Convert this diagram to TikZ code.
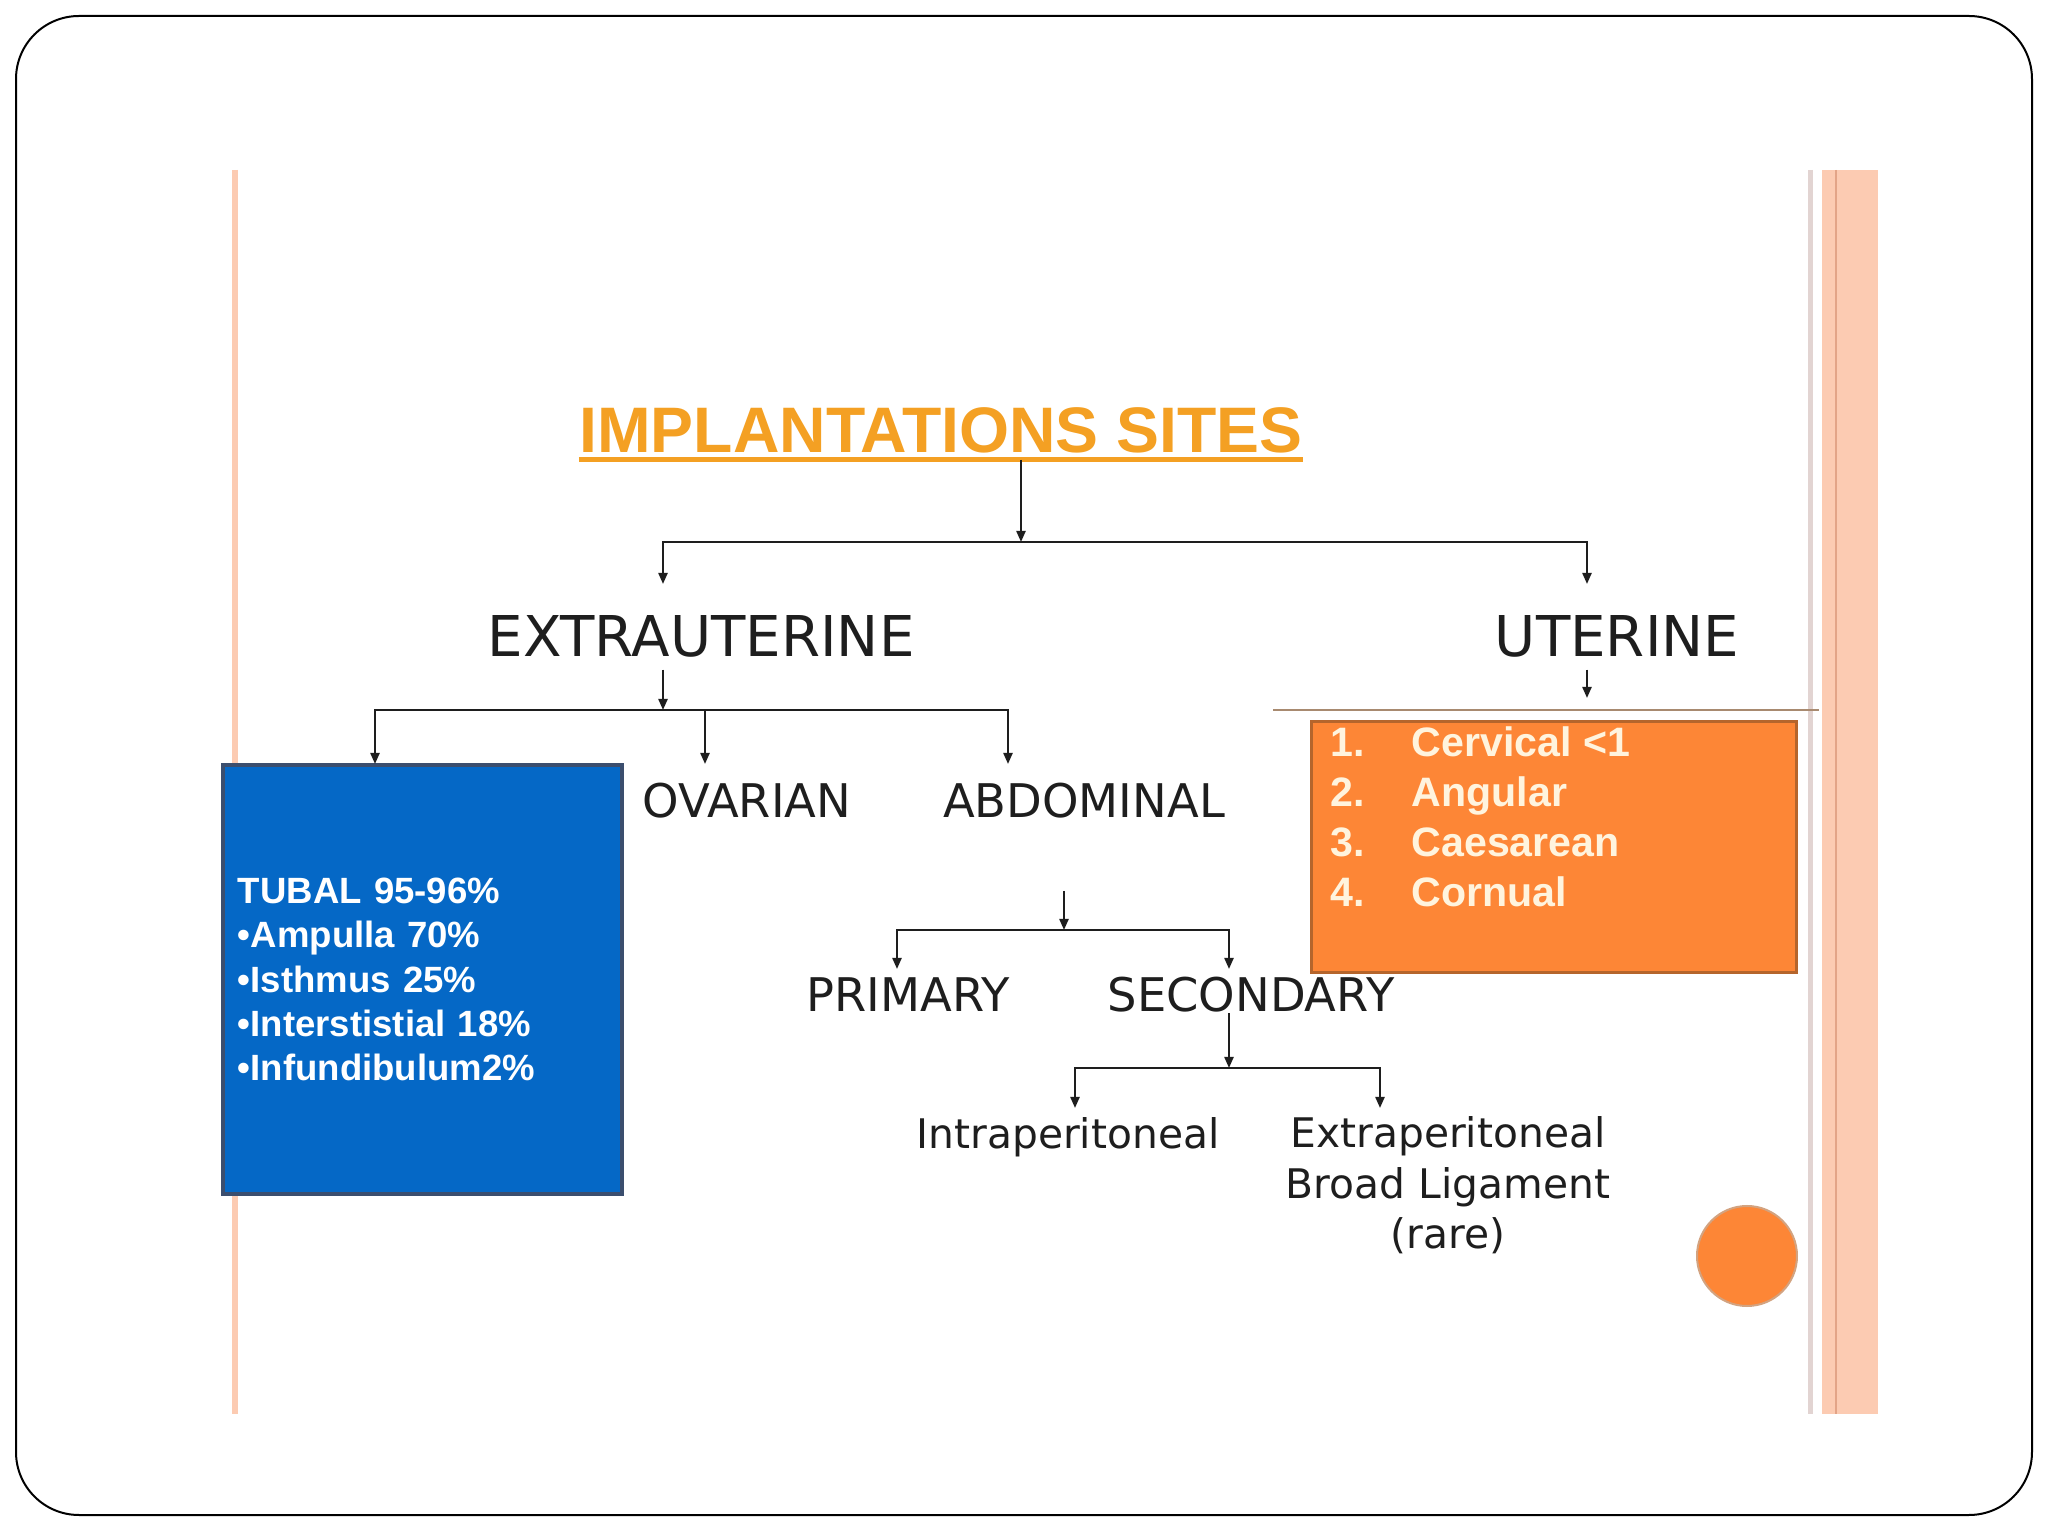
\documentclass[tikz,border=0pt]{standalone}
\usepackage{fontspec}
\setmainfont{DejaVu Sans}
\newfontfamily\arialfont{Liberation Sans}
\usepackage{tikz}
\usepackage{xcolor}
\usetikzlibrary{arrows.meta, positioning}

\definecolor{cInk}        {HTML}{1E1E1E}
\definecolor{cTitle}      {HTML}{F4A023}
\definecolor{cTubal}      {HTML}{0568C6}
\definecolor{cTubalEdge}  {HTML}{3B4E6E}
\definecolor{cUterine}    {HTML}{FD8636}
\definecolor{cUterineEdge}{HTML}{B5652C}
\definecolor{cListText}   {HTML}{FFF4DE}
\definecolor{cStripe}     {HTML}{FCCBB2}
\definecolor{cStripeDark} {HTML}{E3A487}
\definecolor{cStripeGrey} {HTML}{E2D4D2}
\definecolor{cRule}       {HTML}{A88A70}

\begin{document}
\begin{tikzpicture}[
    arr/.style={-{Triangle[length=1.1mm, width=0.9mm]}, line width=0.22mm, draw=cInk},
    level/.style={font=\fontsize{16}{19}\selectfont, text=cInk, inner sep=0pt},
    sublevel/.style={font=\fontsize{13.2}{16}\selectfont, text=cInk, inner sep=0pt},
    leaf/.style={font=\fontsize{11.6}{14.4}\selectfont, text=cInk, inner sep=0pt},
    listtext/.style={font=\arialfont\bfseries\fontsize{11.7}{14}\selectfont,
                     text=cListText, inner sep=0pt, anchor=base west},
  ]
  \useasboundingbox (0,0) rectangle (204.8mm,-153.6mm);
  \fill[white] (0,0) rectangle (204.8mm,-153.6mm);
  % slide frame and side stripes
  \draw[line width=0.2mm, rounded corners=6.3mm] (1.6mm,-1.6mm) rectangle (203.2mm,-151.5mm);
  \draw[cStripe, line width=0.6mm] (23.5mm,-17mm) -- (23.5mm,-141.4mm);
  \fill[cStripe] (182.2mm,-17mm) rectangle (187.8mm,-141.4mm);
  \draw[cStripeDark, line width=0.2mm] (183.6mm,-17mm) -- (183.6mm,-141.4mm);
  \draw[cStripeGrey, line width=0.5mm] (181.0mm,-17mm) -- (181.0mm,-141.4mm);

  % title
  \node[font=\arialfont\bfseries\fontsize{18.3}{22}\selectfont, text=cTitle,
        inner xsep=0pt, inner ysep=0.6mm, anchor=south] (title) at (94.1mm,-46.0mm) {IMPLANTATIONS SITES};
  \draw[cTitle, line width=0.5mm] (title.south west) -- (title.south east);

  % levels
  \node[level] (extra) at (70.1mm,-63.6mm) {EXTRAUTERINE};
  \node[level] (uter) at (161.7mm,-63.6mm) {UTERINE};
  \node[sublevel] (ovar) at (74.7mm,-80.1mm) {OVARIAN};
  \node[sublevel] (abdo) at (108.4mm,-80.1mm) {ABDOMINAL};
  \node[sublevel] (prim) at (90.8mm,-99.5mm) {PRIMARY};
  \node[sublevel] (secd) at (125.1mm,-99.5mm) {SECONDARY};
  \node[leaf, anchor=base] (intra) at (106.8mm,-114.8mm) {Intraperitoneal};
  \node[leaf, anchor=north, align=center] (extraP) at (144.8mm,-111.6mm) {Extraperitoneal\\Broad Ligament\\(rare)};

  % tubal box
  \node[draw=cTubalEdge, fill=cTubal, line width=0.4mm, text width=36.9mm, inner xsep=1.5mm,
        minimum height=42.9mm, align=left, text=white,
        font=\arialfont\bfseries\fontsize{10.4}{12.6}\selectfont]
        (tubal) at (42.25mm,-97.95mm)
        {TUBAL 95-96\%\\•Ampulla 70\%\\•Isthmus 25\%\\•Interstistial 18\%\\•Infundibulum2\%};

  % uterine list
  \draw[cRule, line width=0.2mm] (127.3mm,-71.0mm) -- (181.9mm,-71.0mm);
  \node[draw=cUterineEdge, fill=cUterine, line width=0.3mm, minimum width=48.5mm,
        minimum height=25.1mm] (uterList) at (155.35mm,-84.75mm) {};
  \foreach \i/\site in {1/Cervical <1, 2/Angular, 3/Caesarean, 4/Cornual}{
    \node[listtext] (num\i) at (133.0mm, {-75.7mm-(\i-1)*4.97mm}) {\i.};
    \node[listtext] (site\i) at (141.1mm, {-75.7mm-(\i-1)*4.97mm}) {\site};
  }
  \fill[cUterine, draw=cUterineEdge!60, line width=0.2mm] (174.7mm,-125.6mm) circle (5mm);

  % connectors
  \coordinate (top) at (102.1mm,-54.2mm);
  \coordinate (extraIn) at (66.3mm,-58.4mm);
  \coordinate (uterIn) at (158.7mm,-58.4mm);
  \draw[arr] (title.south -| top) -- (top);
  \draw[arr] (top) -| (extraIn);
  \draw[arr] (top) -| (uterIn);

  \coordinate (ebar) at (66.3mm,-71.0mm);
  \coordinate (tubIn) at (37.5mm,-76.4mm);
  \coordinate (ovarIn) at (70.5mm,-76.4mm);
  \coordinate (abdoIn) at (100.8mm,-76.4mm);
  \draw[arr, shorten <=1.2mm] (ebar |- extra.south) -- (ebar);
  \draw[arr] (ebar) -| (tubIn);
  \draw[arr] (ebar) -| (ovarIn);
  \draw[arr] (ebar) -| (abdoIn);

  \coordinate (uterOut) at (158.7mm,-69.8mm);
  \draw[arr, shorten <=1.2mm] (uterOut |- uter.south) -- (uterOut);

  \coordinate (abdoOut) at (106.4mm,-89.1mm);
  \coordinate (abar) at (106.4mm,-93.0mm);
  \coordinate (primIn) at (89.7mm,-96.9mm);
  \coordinate (secdIn) at (122.9mm,-96.9mm);
  \draw[arr] (abdoOut) -- (abar);
  \draw[arr] (abar) -| (primIn);
  \draw[arr] (abar) -| (secdIn);

  \coordinate (sbar) at (122.9mm,-106.8mm);
  \coordinate (intraIn) at (107.5mm,-110.8mm);
  \coordinate (extraPIn) at (138.0mm,-110.8mm);
  \draw[arr] (secd.south -| sbar) -- (sbar);
  \draw[arr] (sbar) -| (intraIn);
  \draw[arr] (sbar) -| (extraPIn);
\end{tikzpicture}
\end{document}
